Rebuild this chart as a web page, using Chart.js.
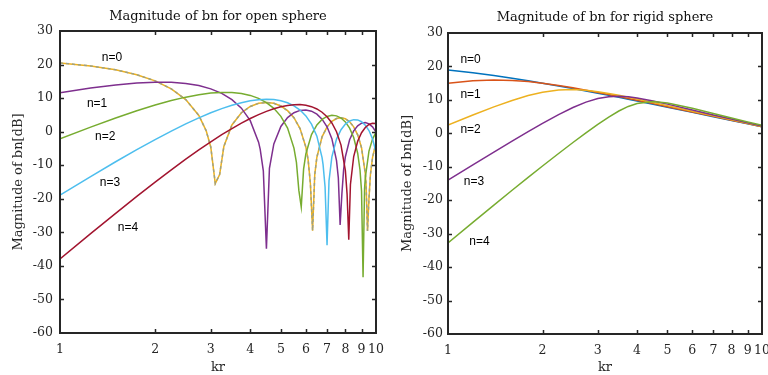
<!DOCTYPE html>
<html>
<head>
<meta charset="utf-8">
<title>Magnitude of bn</title>
<script src="https://cdn.jsdelivr.net/npm/chart.js@4.4.1/dist/chart.umd.min.js"></script>
<style>
  html, body { margin: 0; padding: 0; background: #fff; }
  #wrap { position: relative; width: 768px; height: 375px; overflow: hidden; }
  canvas { position: absolute; top: 0; }
</style>
</head>
<body>
<div id="wrap">
  <canvas id="openChart" width="384" height="375" style="left:0;width:384px;height:375px"></canvas>
  <canvas id="rigidChart" width="384" height="375" style="left:384px;width:384px;height:375px"></canvas>
</div>
<script>
// axis ticks
const xTicks = [1, 2, 3, 4, 5, 6, 7, 8, 9, 10];
const yTicks = [-60, -50, -40, -30, -20, -10, 0, 10, 20, 30];

// open sphere, |bn| in dB
const openKr0 = [1, 1.25, 1.5, 1.75, 2, 2.25, 2.5, 2.75, 2.9, 3, 3.1, 3.2, 3.3, 3.5, 3.75, 4, 4.25, 4.5, 4.75, 5, 5.25, 5.5, 5.75, 6, 6.1, 6.2, 6.3, 6.4, 6.5, 6.75, 7, 7.25, 7.5, 7.75, 8, 8.25, 8.5, 8.75, 9, 9.25, 9.3, 9.4, 9.5, 9.6, 9.75, 10];
const openDb0 = [20.48, 19.59, 18.44, 16.98, 15.14, 12.76, 9.57, 4.83, 0.31, -4.57, -15.47, -12.80, -4.43, 2.00, 5.64, 7.52, 8.45, 8.72, 8.44, 7.64, 6.26, 4.15, 0.91, -4.65, -8.51, -15.47, -29.49, -12.81, -7.62, -1.54, 1.43, 3.09, 3.92, 4.15, 3.83, 2.96, 1.44, -0.94, -4.80, -12.54, -15.49, -29.60, -20.05, -12.84, -7.71, -3.30];

const openKr1 = [1, 1.25, 1.5, 1.75, 2, 2.25, 2.5, 2.75, 3, 3.25, 3.5, 3.75, 4, 4.25, 4.3, 4.4, 4.5, 4.6, 4.75, 5, 5.25, 5.5, 5.75, 6, 6.25, 6.5, 6.75, 7, 7.25, 7.5, 7.6, 7.7, 7.8, 7.9, 8, 8.25, 8.5, 8.75, 9, 9.25, 9.5, 9.75, 10];
const openDb1 = [11.56, 12.99, 13.94, 14.51, 14.76, 14.71, 14.37, 13.73, 12.76, 11.40, 9.55, 7.00, 3.28, -3.14, -5.22, -11.70, -34.92, -10.94, -3.66, 1.55, 4.18, 5.63, 6.34, 6.48, 6.11, 5.22, 3.74, 1.47, -2.07, -8.61, -13.77, -27.77, -18.47, -11.24, -7.48, -2.41, 0.25, 1.75, 2.52, 2.69, 2.34, 1.43, -0.12];

const openKr2 = [1, 1.25, 1.5, 1.75, 2, 2.25, 2.5, 2.75, 3, 3.25, 3.5, 3.75, 4, 4.25, 4.5, 4.75, 5, 5.25, 5.5, 5.6, 5.7, 5.8, 5.9, 6, 6.25, 6.5, 6.75, 7, 7.25, 7.5, 7.75, 8, 8.25, 8.5, 8.75, 8.9, 9, 9.1, 9.2, 9.25, 9.5, 9.75, 10];
const openDb2 = [-2.16, 1.36, 4.08, 6.24, 7.94, 9.27, 10.29, 11.02, 11.49, 11.70, 11.67, 11.38, 10.81, 9.93, 8.68, 6.96, 4.57, 1.08, -4.90, -9.15, -17.50, -22.44, -11.16, -6.58, -0.89, 1.99, 3.65, 4.54, 4.87, 4.71, 4.07, 2.90, 1.06, -1.75, -6.42, -11.42, -17.72, -43.40, -17.05, -13.73, -5.80, -2.22, -0.18];

const openKr3 = [1, 1.25, 1.5, 1.75, 2, 2.25, 2.5, 2.75, 3, 3.25, 3.5, 3.75, 4, 4.25, 4.5, 4.75, 5, 5.25, 5.5, 5.75, 6, 6.25, 6.5, 6.75, 6.8, 6.9, 7, 7.1, 7.25, 7.5, 7.75, 8, 8.25, 8.5, 8.75, 9, 9.25, 9.5, 9.75, 10];
const openDb3 = [-18.93, -13.39, -8.97, -5.36, -2.35, 0.18, 2.32, 4.12, 5.62, 6.87, 7.87, 8.64, 9.19, 9.53, 9.65, 9.55, 9.21, 8.61, 7.71, 6.44, 4.70, 2.26, -1.34, -7.72, -9.81, -16.50, -33.87, -14.65, -7.52, -2.21, 0.59, 2.25, 3.18, 3.58, 3.50, 2.97, 1.95, 0.33, -2.14, -6.09];

const openKr4 = [1, 1.25, 1.5, 1.75, 2, 2.25, 2.5, 2.75, 3, 3.25, 3.5, 3.75, 4, 4.25, 4.5, 4.75, 5, 5.25, 5.5, 5.75, 6, 6.25, 6.5, 6.75, 7, 7.25, 7.5, 7.75, 8, 8.1, 8.2, 8.3, 8.5, 8.75, 9, 9.25, 9.5, 9.75, 10];
const openDb4 = [-37.92, -30.39, -24.33, -19.30, -15.05, -11.39, -8.21, -5.45, -3.03, -0.91, 0.93, 2.54, 3.92, 5.08, 6.05, 6.83, 7.42, 7.83, 8.04, 8.06, 7.86, 7.45, 6.77, 5.79, 4.44, 2.58, -0.03, -4.01, -11.62, -18.60, -32.20, -15.75, -7.41, -2.86, -0.31, 1.24, 2.13, 2.52, 2.46];

// rigid sphere, |bn| in dB (right panel)
const rigidKr = [1, 1.2, 1.4, 1.6, 1.8, 2, 2.25, 2.5, 2.75, 3, 3.25, 3.5, 3.75, 4, 4.5, 5, 6, 7, 8, 9, 10];
const rigidDb0 = [18.97, 18.11, 17.27, 16.47, 15.71, 14.99, 14.16, 13.38, 12.66, 11.98, 11.35, 10.76, 10.21, 9.68, 8.71, 7.83, 6.30, 4.99, 3.86, 2.85, 1.94];
const rigidDb1 = [14.99, 15.73, 15.96, 15.83, 15.48, 14.99, 14.31, 13.60, 12.90, 12.23, 11.59, 10.99, 10.42, 9.88, 8.88, 7.98, 6.41, 5.08, 3.92, 2.90, 1.98];
const rigidDb2 = [2.49, 5.48, 7.90, 9.83, 11.29, 12.29, 12.95, 13.08, 12.86, 12.44, 11.92, 11.37, 10.81, 10.26, 9.22, 8.28, 6.63, 5.24, 4.05, 3.00, 2.07];
const rigidDb3 = [-14.00, -9.42, -5.60, -2.34, 0.49, 2.95, 5.59, 7.73, 9.34, 10.41, 10.95, 11.07, 10.91, 10.57, 9.68, 8.73, 6.99, 5.51, 4.26, 3.17, 2.20];
const rigidDb4 = [-32.79, -26.62, -21.45, -17.02, -13.17, -9.77, -6.02, -2.74, 0.15, 2.69, 4.88, 6.68, 8.04, 8.94, 9.51, 9.09, 7.48, 5.91, 4.56, 3.40, 2.39];

// text labels inside the plots
const orderNames = ['n=0', 'n=1', 'n=2', 'n=3', 'n=4'];
const openLabelKr = [1.46, 1.31, 1.39, 1.44, 1.64];
const openLabelDb = [22.1, 8.3, -1.6, -15.3, -28.7];
const rigidLabelKr = [1.18, 1.18, 1.18, 1.21, 1.26];
const rigidLabelDb = [22.1, 11.7, 1.2, -14.6, -32.5];

const openColors = ['#EDB120', '#7E2F8E', '#77AC30', '#4DBEEE', '#A2142F'];
const rigidColors = ['#0072BD', '#D95319', '#EDB120', '#7E2F8E', '#77AC30'];

const axisColor = '#262626';
const serif = "'DejaVu Serif', 'Liberation Serif', serif";

function pts(kr, db) {
  return kr.map((k, i) => ({ x: k, y: db[i] }));
}

function line(data, color, n) {
  return {
    data: data,
    borderColor: color,
    borderWidth: 1.5,
    pointRadius: 0,
    tension: 0,
    order: 4 - n
  };
}

// box around the plot + inward tick marks (MATLAB style)
const framePlugin = {
  id: 'frame',
  afterDraw(chart) {
    const { ctx, chartArea: a, scales } = chart;
    const len = 4;
    ctx.save();
    ctx.strokeStyle = axisColor;
    ctx.lineWidth = 1.5;
    ctx.beginPath();
    xTicks.forEach(v => {
      const px = Math.round(scales.x.getPixelForValue(v)) + 0.5;
      if (px <= a.left + 1 || px >= a.right - 1) return;
      ctx.moveTo(px, a.bottom); ctx.lineTo(px, a.bottom - len);
      ctx.moveTo(px, a.top); ctx.lineTo(px, a.top + len);
    });
    yTicks.forEach(v => {
      const py = Math.round(scales.y.getPixelForValue(v)) + 0.5;
      if (py <= a.top + 1 || py >= a.bottom - 1) return;
      ctx.moveTo(a.left, py); ctx.lineTo(a.left + len, py);
      ctx.moveTo(a.right, py); ctx.lineTo(a.right - len, py);
    });
    ctx.stroke();
    ctx.lineWidth = 2;
    ctx.strokeRect(a.left, a.top, a.right - a.left, a.bottom - a.top);
    ctx.restore();
  }
};

// "n=0" ... labels placed in data coordinates
const orderLabels = {
  id: 'orderLabels',
  afterDatasetsDraw(chart, args, opts) {
    const { ctx, scales } = chart;
    ctx.save();
    ctx.font = "12px 'Liberation Sans', Arial, sans-serif";
    ctx.fillStyle = '#000';
    ctx.textAlign = 'center';
    ctx.textBaseline = 'middle';
    orderNames.forEach((t, i) => {
      ctx.fillText(t, scales.x.getPixelForValue(opts.kr[i]), scales.y.getPixelForValue(opts.db[i]));
    });
    ctx.restore();
  }
};

function makePanel(id, title, datasets, labelKr, labelDb, box) {
  return new Chart(document.getElementById(id), {
    type: 'line',
    data: { datasets: datasets },
    plugins: [framePlugin, orderLabels],
    options: {
      responsive: false,
      devicePixelRatio: 1,
      animation: false,
      layout: { padding: { left: 0, right: box.padRight, top: 0, bottom: 0 } },
      plugins: {
        legend: { display: false },
        tooltip: { enabled: false },
        title: {
          display: true,
          text: title,
          fullSize: false,
          color: '#111',
          font: { family: serif, size: 13, weight: 'normal' },
          padding: { top: box.titleTop, bottom: box.titleBottom }
        },
        orderLabels: { kr: labelKr, db: labelDb }
      },
      scales: {
        x: {
          type: 'logarithmic',
          min: 1,
          max: 10,
          grid: { display: false, drawTicks: false },
          border: { display: false },
          afterBuildTicks: s => { s.ticks = xTicks.map(v => ({ value: v })); },
          afterFit: s => { s.height = box.xHeight; s.paddingLeft = 0; s.paddingRight = 0; },
          ticks: {
            color: axisColor,
            padding: 9,
            maxRotation: 0,
            autoSkip: false,
            font: { family: serif, size: 12.5 },
            callback: v => String(v)
          },
          title: {
            display: true,
            text: 'kr',
            color: axisColor,
            font: { family: serif, size: 13 },
            padding: { top: 0, bottom: 0 }
          }
        },
        y: {
          min: -60,
          max: 30,
          grid: { display: false, drawTicks: false },
          border: { display: false },
          afterBuildTicks: s => { s.ticks = yTicks.map(v => ({ value: v })); },
          afterFit: s => { s.width = box.yWidth; s.paddingTop = 0; s.paddingBottom = 0; },
          ticks: {
            color: axisColor,
            padding: box.yPad,
            font: { family: serif, size: 12.5 }
          },
          title: {
            display: true,
            text: 'Magnitude of bn[dB]',
            color: axisColor,
            font: { family: serif, size: 13 },
            padding: { top: box.yTitleTop, bottom: 0 }
          }
        }
      }
    }
  });
}

// the n=0 line of the open sphere shows as yellow with a grey dashed trace over it
const openSets = [
  line(pts(openKr0, openDb0), openColors[0], 0),
  Object.assign(line(pts(openKr0, openDb0), 'rgba(150,160,140,0.9)', 0), { borderDash: [3, 3], order: 3.5 }),
  line(pts(openKr1, openDb1), openColors[1], 1),
  line(pts(openKr2, openDb2), openColors[2], 2),
  line(pts(openKr3, openDb3), openColors[3], 3),
  line(pts(openKr4, openDb4), openColors[4], 4)
];

const rigidSets = [rigidDb0, rigidDb1, rigidDb2, rigidDb3, rigidDb4].map((db, n) =>
  line(pts(rigidKr, db), rigidColors[n], n));

makePanel('openChart', 'Magnitude of bn for open sphere', openSets, openLabelKr, openLabelDb,
  { padRight: 8, titleTop: 9, titleBottom: 6.4, xHeight: 42, yWidth: 60, yPad: 7, yTitleTop: 11 });

makePanel('rigidChart', 'Magnitude of bn for rigid sphere', rigidSets, rigidLabelKr, rigidLabelDb,
  { padRight: 6, titleTop: 10, titleBottom: 7.4, xHeight: 41, yWidth: 64, yPad: 5, yTitleTop: 16 });
</script>
</body>
</html>
